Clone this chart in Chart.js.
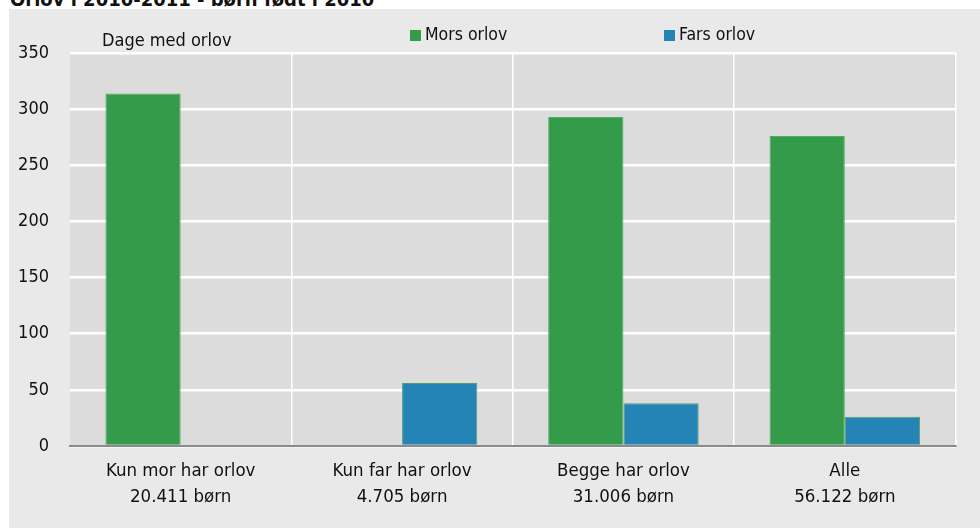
<!DOCTYPE html>
<html>
<head>
<meta charset="utf-8">
<script src="https://cdn.jsdelivr.net/npm/chart.js@4"></script>
<style>
  html, body { margin: 0; padding: 0; background: #ffffff; width: 980px; height: 528px; overflow: hidden; }
  #title { position: absolute; left: 10px; top: 0; width: 600px; height: 9px; overflow: hidden; }
  #title div { position: relative; top: -11px; font: bold 20px "Liberation Sans Narrow", "DejaVu Sans Condensed", sans-serif; line-height: 20px; color: #111; white-space: nowrap; }
  #panel { position: absolute; left: 9px; top: 9px; width: 971px; height: 519px; background: #e9e9e9; }
</style>
</head>
<body>
<div id="title"><div>Orlov i 2010-2011 - børn født i 2010</div></div>
<div id="panel"><canvas id="c" width="971" height="519"></canvas></div>
<script>
const categories = [
  ["Kun mor har orlov", "20.411 børn"],
  ["Kun far har orlov", "4.705 børn"],
  ["Begge har orlov", "31.006 børn"],
  ["Alle", "56.122 børn"]
];
const seriesNames = ["Mors orlov", "Fars orlov"];
const morsOrlov = [314, 0, 293, 276];
const farsOrlov = [0, 56, 38, 26];
const yAxisTitle = "Dage med orlov";
const yTicks = [0, 50, 100, 150, 200, 250, 300, 350];

const FONT = '"Liberation Sans Narrow", "DejaVu Sans Condensed", sans-serif';

const bgPlugin = {
  id: 'bg',
  beforeDraw(chart) {
    const {ctx, chartArea: a} = chart;
    ctx.save();
    ctx.fillStyle = '#dcdcdc';
    ctx.fillRect(a.left, a.top, a.right - a.left, a.bottom - a.top);
    ctx.restore();
  },
  afterDraw(chart) {
    const ctx = chart.ctx;
    ctx.save();
    ctx.font = '18px ' + FONT;
    ctx.fillStyle = '#111';
    ctx.textBaseline = 'middle';
    ctx.textAlign = 'left';
    ctx.fillText(yAxisTitle, 93, 32);
    ctx.font = '17.5px ' + FONT;
    const legendPos = [401, 655];
    chart.data.datasets.forEach((ds, i) => {
      ctx.fillStyle = ds.backgroundColor;
      ctx.fillRect(legendPos[i], 21, 11, 11);
      ctx.fillStyle = '#111';
      ctx.fillText(ds.label, legendPos[i] + 15, 26);
    });
    ctx.restore();
  }
};

new Chart(document.getElementById('c'), {
  type: 'bar',
  data: {
    labels: categories,
    datasets: [
      { label: seriesNames[0], data: morsOrlov, backgroundColor: '#339b49', borderColor: '#52ad62', borderWidth: 1, borderSkipped: 'bottom' },
      { label: seriesNames[1], data: farsOrlov, backgroundColor: '#2584b6', borderColor: '#52a06a', borderWidth: 1, borderSkipped: 'bottom' }
    ]
  },
  options: {
    responsive: false,
    animation: false,
    devicePixelRatio: 1,
    layout: { padding: { left: 0, right: 24.5, top: 44, bottom: 0 } },
    datasets: { bar: { categoryPercentage: 0.68, barPercentage: 1.0 } },
    plugins: { legend: { display: false }, tooltip: { enabled: false }, title: { display: false } },
    scales: {
      x: {
        grid: {
          offset: true,
          drawTicks: false,
          lineWidth: 1.5,
          color: (c) => (c.index === 0 || c.index >= categories.length) ? 'rgba(0,0,0,0)' : '#ffffff'
        },
        border: { display: true, color: '#8a8a8a', width: 2 },
        ticks: { color: '#111', font: { family: FONT, size: 18.5, lineHeight: 1.36 }, padding: 13, maxRotation: 0, autoSkip: false },
        afterFit(s) { s.height = 82; }
      },
      y: {
        min: 0, max: 350,
        afterBuildTicks(s) { s.ticks = yTicks.map(v => ({ value: v })); },
        grid: { color: '#ffffff', lineWidth: 2.5, drawTicks: false },
        border: { display: false },
        ticks: { color: '#111', font: { family: FONT, size: 18 }, padding: 21 },
        afterFit(s) { s.width = 61; }
      }
    }
  },
  plugins: [bgPlugin]
});
</script>
</body>
</html>
